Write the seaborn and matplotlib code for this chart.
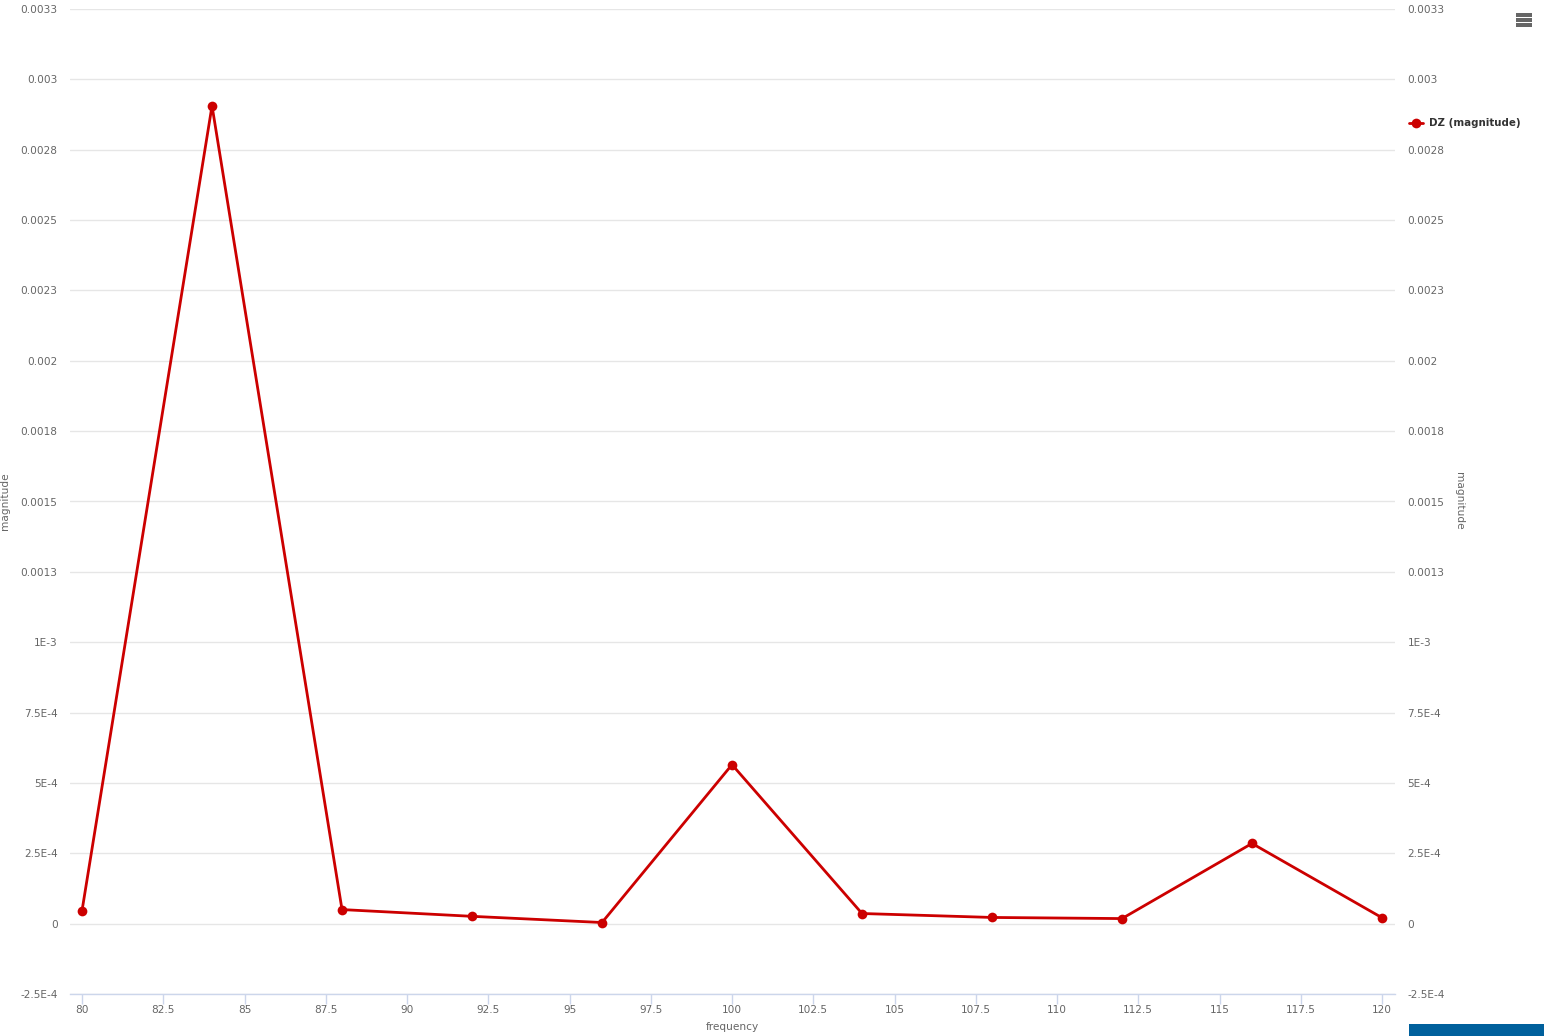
import matplotlib
matplotlib.use("Agg")
import matplotlib.pyplot as plt
from matplotlib.patches import Rectangle
import pandas as pd
import seaborn as sns

# Values.
frequency = [80, 84, 88, 92, 96, 100, 104, 108, 112, 116, 120]
magnitude = [4.6e-5, 2.906e-3, 5.0e-5, 2.6e-5, 4e-6, 5.65e-4,
             3.6e-5, 2.2e-5, 1.8e-5, 2.85e-4, 2.1e-5]
x_ticks = [80, 82.5, 85, 87.5, 90, 92.5, 95, 97.5, 100, 102.5, 105, 107.5, 110, 112.5, 115, 117.5, 120]
x_labels = ["80", "82.5", "85", "87.5", "90", "92.5", "95", "97.5", "100",
            "102.5", "105", "107.5", "110", "112.5", "115", "117.5", "120"]
y_ticks = [-2.5e-4, 0, 2.5e-4, 5e-4, 7.5e-4, 1e-3, 1.25e-3, 1.5e-3, 1.75e-3,
           2e-3, 2.25e-3, 2.5e-3, 2.75e-3, 3e-3, 3.25e-3]
y_labels = ["-2.5E-4", "0", "2.5E-4", "5E-4", "7.5E-4", "1E-3", "0.0013", "0.0015",
            "0.0018", "0.002", "0.0023", "0.0025", "0.0028", "0.003", "0.0033"]

df = pd.DataFrame({"frequency": frequency, "magnitude": magnitude})

sns.set_style("white")
plt.rcParams["font.family"] = ["DejaVu Sans"]

LINE = "#cc0000"
GRID = "#e6e6e6"
TXT = "#666666"
AXIS = "#ccd6eb"
FS = 7.6

fig = plt.figure(figsize=(15.44, 10.36), dpi=100)
W, H = 1544, 1036
ax = fig.add_axes([70 / W, 1 - 994 / H, (1395 - 70) / W, (994 - 9) / H])

sns.lineplot(data=df, x="frequency", y="magnitude", ax=ax, color=LINE,
             linewidth=2, marker="o", markersize=7, markeredgewidth=0)

ax.set_xlim(79.63, 120.4)
ax.set_ylim(-2.5e-4, 3.25e-3)
ax.set_xticks(x_ticks)
ax.set_xticklabels(x_labels)
ax.set_yticks(y_ticks)
ax.set_yticklabels(y_labels)
ax.grid(axis="y", color=GRID, linewidth=1)
ax.grid(axis="x", visible=False)
ax.set_axisbelow(True)
for s in ["top", "left", "right"]:
    ax.spines[s].set_visible(False)
ax.spines["bottom"].set_color(AXIS)
ax.spines["bottom"].set_linewidth(1)
ax.tick_params(axis="x", bottom=True, colors=AXIS, labelcolor=TXT, length=7, width=1,
               labelsize=FS, direction="out", pad=1)
ax.tick_params(axis="y", left=False, length=0, labelcolor=TXT, labelsize=FS, pad=9)
ax.set_xlabel("")
ax.set_ylabel("")

ax2 = ax.twinx()
ax2.set_ylim(ax.get_ylim())
ax2.set_yticks(y_ticks)
ax2.set_yticklabels(y_labels)
for s in ax2.spines.values():
    s.set_visible(False)
ax2.tick_params(axis="y", right=False, length=0, labelcolor=TXT, labelsize=FS, pad=9)

# axis titles
fig.text(732 / W, 1 - 1027 / H, "frequency", fontsize=FS, color=TXT, ha="center", va="center")
fig.text(5 / W, 1 - 501 / H, "magnitude", fontsize=FS, color=TXT, ha="center", va="center",
         rotation=90)
fig.text(1459 / W, 1 - 501 / H, "magnitude", fontsize=FS, color=TXT, ha="center", va="center",
         rotation=270)

# legend on the right side
fig.lines.append(plt.Line2D([1409 / W, 1423 / W], [1 - 123 / H, 1 - 123 / H],
                            color=LINE, linewidth=2, transform=fig.transFigure))
fig.lines.append(plt.Line2D([1416 / W], [1 - 123 / H], color=LINE, marker="o",
                            markersize=7, markeredgewidth=0, transform=fig.transFigure))
fig.text(1429 / W, 1 - 123 / H, "DZ (magnitude)", fontsize=7.4, fontweight="bold",
         color="#333333", va="center", ha="left")

# menu icon
for yy in [15, 20, 25]:
    fig.add_artist(Rectangle((1516 / W, 1 - (yy + 1.5) / H), 16 / W, 3 / H,
                             transform=fig.transFigure, color="#666666", lw=0))

# blue box bottom right
fig.add_artist(Rectangle((1409 / W, 0), (W - 1409) / W, 12 / H,
                         transform=fig.transFigure, color="#00609c", lw=0))

fig.savefig("out.png", dpi=100)
